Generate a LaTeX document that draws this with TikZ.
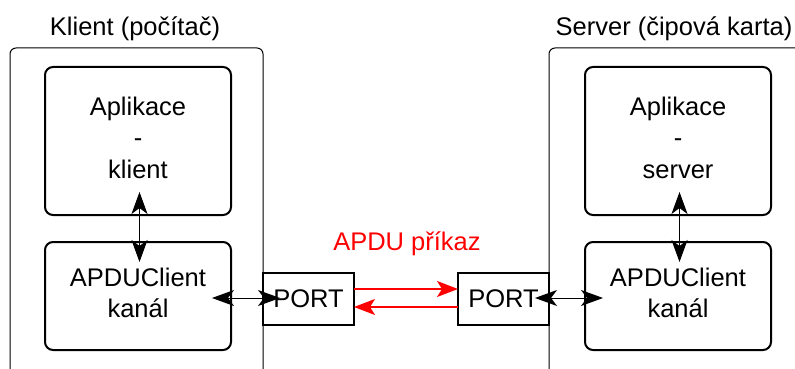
\documentclass[tikz,border=0pt]{standalone}
\usepackage{fontspec}
\setmainfont{Liberation Sans}
\usetikzlibrary{arrows.meta}
\definecolor{pred}{RGB}{255,0,0}
\tikzset{
  bihead/.tip={Stealth[length=22pt,width=16pt,inset=6pt]},
  redhead/.tip={Stealth[length=21pt,width=16pt,inset=5pt]}
}
\begin{document}
\begin{tikzpicture}[x=1pt,y=-1pt,
  txt/.style={font=\fontsize{25.5}{31.5}\selectfont, inner sep=0pt, anchor=base},
  outerbox/.style={draw, line width=1pt, rounded corners=6pt, anchor=north west, outer sep=0pt, inner sep=0pt},
  innerbox/.style={draw, line width=2pt, rounded corners=8pt, anchor=north west, outer sep=0pt, inner sep=0pt, minimum width=186pt},
  portbox/.style={draw, line width=2pt, anchor=north west, outer sep=0pt, inner sep=0pt, minimum height=52pt},
  biarrow/.style={line width=1pt, bihead-bihead},
  redarrow/.style={draw=pred, line width=1.3pt, -redhead, color=pred}
]
\useasboundingbox (0,0) rectangle (795,369);
\clip (0,0) rectangle (795,369);
% outer boxes
\node[outerbox, minimum width=253pt, minimum height=400pt] (client) at (10,48) {};
\node[outerbox, minimum width=270pt, minimum height=400pt] (server) at (549,48) {};
\node[txt] (tclient) at (135,36) {Klient (počítač)};
\node[txt] (tserver) at (674,36) {Server (čipová karta)};
% inner boxes
\node[innerbox, minimum height=148pt] (appC) at (45,67) {};
\node[txt] (appC1) at (138,115) {Aplikace};
\node[txt] (appC2) at (138,146.5) {-};
\node[txt] (appC3) at (138,178) {klient};
\node[innerbox, minimum height=108pt] (apduC) at (45,242) {};
\node[txt] (apduC1) at (138,286) {APDUClient};
\node[txt] (apduC2) at (138,317) {kanál};
\node[innerbox, minimum height=148pt] (appS) at (585,67) {};
\node[txt] (appS1) at (678,115) {Aplikace};
\node[txt] (appS2) at (678,146.5) {-};
\node[txt] (appS3) at (678,178) {server};
\node[innerbox, minimum height=108pt] (apduS) at (585,242) {};
\node[txt] (apduS1) at (678,286) {APDUClient};
\node[txt] (apduS2) at (678,317) {kanál};
% ports
\node[portbox, minimum width=91pt] (portC) at (263,273) {};
\node[txt] (portCt) at (308.5,307) {PORT};
\node[portbox, minimum width=91pt] (portS) at (458,273) {};
\node[txt] (portSt) at (503.5,307) {PORT};
% red label
\node[txt, text=pred] (cmd) at (407,250) {APDU příkaz};
% arrows
\draw[biarrow] ([xshift=1.5pt,yshift=23pt]appC.south) -- ([xshift=1.5pt,yshift=-20pt]apduC.north);
\draw[biarrow] ([xshift=1.5pt,yshift=23pt]appS.south) -- ([xshift=1.5pt,yshift=-20pt]apduS.north);
\coordinate (lc) at ([yshift=1pt]portC.west -| apduC.east);
\coordinate (rc) at ([yshift=1pt]portS.east -| apduS.west);
\draw[biarrow] ([xshift=-19pt]lc) -- ([xshift=17pt,yshift=1pt]portC.west);
\draw[biarrow] ([xshift=-14pt,yshift=1pt]portS.east) -- ([xshift=18pt]rc);
\draw[redarrow] ([yshift=10pt]portC.east) -- ([yshift=10pt]portS.west);
\draw[redarrow] ([yshift=-8pt]portS.west) -- ([yshift=-8pt]portC.east);
\end{tikzpicture}
\end{document}
